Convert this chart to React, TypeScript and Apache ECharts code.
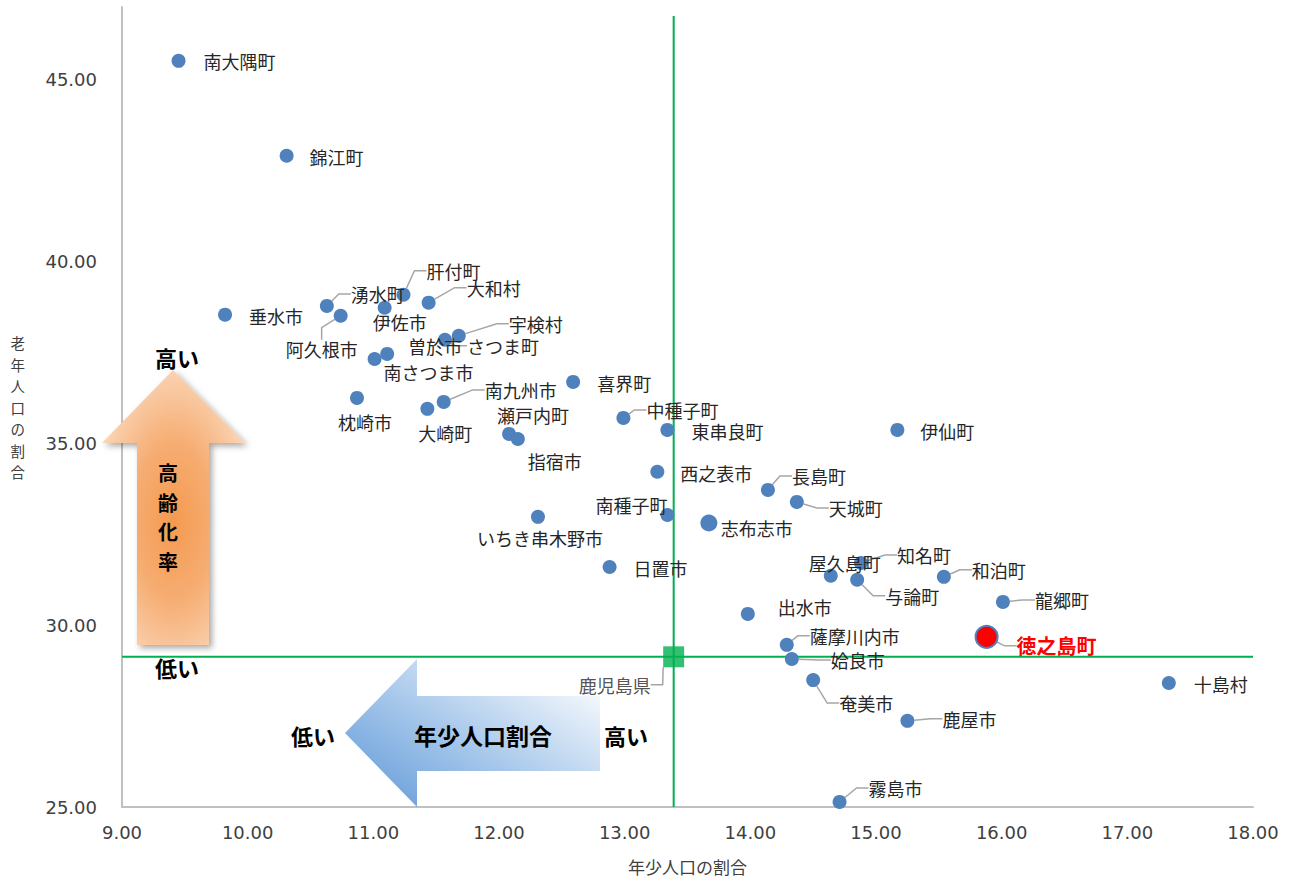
import React, { useEffect, useRef } from "react";
import * as echarts from "echarts";

// 市町村別 年少人口の割合(%) と 老年人口の割合(%)
const municipalities = [
  "南大隅町", "錦江町", "垂水市", "湧水町", "阿久根市", "伊佐市", "肝付町", "大和村",
  "曽於市", "南さつま市", "さつま町", "宇検村", "枕崎市", "大崎町", "南九州市", "瀬戸内町",
  "指宿市", "喜界町", "中種子町", "東串良町", "伊仙町", "西之表市", "長島町", "天城町",
  "南種子町", "志布志市", "いちき串木野市", "日置市", "屋久島町", "知名町", "与論町", "和泊町",
  "龍郷町", "出水市", "薩摩川内市", "姶良市", "徳之島町", "奄美市", "十島村", "鹿屋市", "霧島市",
];
const youthShare = [
  9.45, 10.31, 9.82, 10.63, 10.74, 11.09, 11.24, 11.44,
  11.11, 11.01, 11.57, 11.68, 10.87, 11.43, 11.56, 12.08,
  12.15, 12.59, 12.99, 13.34, 15.17, 13.26, 14.14, 14.37,
  13.34, 13.67, 12.31, 12.88, 14.64, 14.88, 14.85, 15.54,
  16.01, 13.98, 14.29, 14.33, 15.88, 14.5, 17.33, 15.25, 14.71,
];
const elderlyShare = [
  45.52, 42.91, 38.54, 38.78, 38.51, 38.73, 39.09, 38.87,
  37.46, 37.32, 37.85, 37.96, 36.25, 35.95, 36.14, 35.26,
  35.12, 36.69, 35.7, 35.37, 35.37, 34.22, 33.72, 33.39,
  33.03, 32.81, 32.98, 31.6, 31.36, 31.71, 31.25, 31.33,
  30.64, 30.31, 29.46, 29.07, 29.68, 28.49, 28.41, 27.37, 25.14,
];

// 県全体の値（基準線の交点）
const prefName = "鹿児島県";
const prefYouth = 13.39;
const prefElderly = 29.13;
const highlightName = "徳之島町";

// 軸の範囲
const xMin = 9;
const xMax = 18;
const xStep = 1;
const yMin = 25;
const yMax = 47;
const yStep = 5;
const refLineTop = 46.75;

// ラベル配置（点の中心からのずれ px、引き出し線の有無）
const labelPlacement: Record<string, [number, number, boolean]> = {
  南大隅町: [61, 0, false],
  錦江町: [50, 1, false],
  垂水市: [51, 1, false],
  湧水町: [51, -12, true],
  阿久根市: [-19, 33, true],
  伊佐市: [15, 14, false],
  肝付町: [50, -24, true],
  大和村: [65, -15, true],
  曽於市: [48, -8, false],
  南さつま市: [54, 13, false],
  さつま町: [58, 6, true],
  宇検村: [77, -12, true],
  枕崎市: [8, 24, false],
  大崎町: [18, 24, false],
  南九州市: [77, -12, true],
  瀬戸内町: [24, -19, false],
  指宿市: [37, 22, false],
  喜界町: [51, 1, false],
  中種子町: [59, -8, true],
  東串良町: [60, 1, false],
  伊仙町: [50, 1, false],
  西之表市: [59, 1, false],
  長島町: [51, -14, true],
  天城町: [59, 6, true],
  南種子町: [-36, -10, false],
  志布志市: [48, 5, false],
  いちき串木野市: [2, 21, false],
  日置市: [51, 1, false],
  屋久島町: [14, -13, false],
  知名町: [63, -8, true],
  与論町: [55, 16, true],
  和泊町: [55, -7, true],
  龍郷町: [59, -2, true],
  出水市: [57, -7, false],
  薩摩川内市: [68, -9, true],
  姶良市: [66, 1, true],
  徳之島町: [70, 9, true],
  奄美市: [53, 23, true],
  十島村: [52, 1, false],
  鹿屋市: [62, -2, true],
  霧島市: [56, -14, true],
  鹿児島県: [-59, 28, true],
};

const JP_FONT = '"Noto Sans CJK JP", "Noto Sans", sans-serif';
const NUM_FONT = '"DejaVu Sans", Verdana, sans-serif';
const DOT_COLOR = "#4f81bd";
const GREEN = "#00b050";
const LEADER = "#a6a6a6";

function placeLabel(names: string[]) {
  return (params: any) => {
    const name = names[params.dataIndex];
    const p = labelPlacement[name] || [45, 0, false];
    const r = params.rect;
    return {
      x: r.x + r.width / 2 + p[0],
      y: r.y + r.height / 2 + p[1],
      align: "center",
      verticalAlign: "middle",
    };
  };
}

function buildOption(): any {
  const points = municipalities.map((name, i) => {
    const p = labelPlacement[name];
    const item: any = {
      name,
      value: [youthShare[i], elderlyShare[i]],
      labelLine: { show: p ? p[2] : false },
    };
    if (name === highlightName) {
      item.symbolSize = 22;
      item.itemStyle = { color: "#ff0000", borderColor: DOT_COLOR, borderWidth: 2 };
      item.label = { color: "#ff0000", fontWeight: "bold", fontSize: 20 };
    }
    if (name === "志布志市") item.symbolSize = 17;
    return item;
  });

  const upArrow = [
    [173, 370], [245, 443], [209, 443], [209, 645], [137, 645], [137, 443], [102, 443],
  ];
  const leftArrow = [
    [345, 733], [417, 659], [417, 696], [600, 696], [600, 771], [417, 771], [417, 807],
  ];

  const boldText = (text: string, x: number, y: number, size: number, extra: any = {}) => ({
    type: "text",
    x,
    y,
    z: 20,
    style: {
      text,
      fill: "#000",
      fontSize: size,
      fontWeight: "bold",
      fontFamily: JP_FONT,
      textAlign: "center",
      textVerticalAlign: "middle",
      ...extra,
    },
  });

  return {
    animation: false,
    backgroundColor: "#ffffff",
    grid: { left: 122, right: 39, top: 7, bottom: 72, outerBoundsMode: "none" },
    xAxis: {
      type: "value",
      min: xMin,
      max: xMax,
      interval: xStep,
      name: "年少人口の割合",
      nameLocation: "middle",
      nameGap: 51,
      nameTextStyle: { fontFamily: JP_FONT, fontSize: 17, color: "#404040" },
      axisLine: { show: true, lineStyle: { color: "#c0c0c0", width: 2 } },
      axisTick: { show: false },
      splitLine: { show: false },
      axisLabel: {
        margin: 16,
        fontFamily: NUM_FONT,
        fontSize: 18,
        color: "#404040",
        formatter: (v: number) => v.toFixed(2),
      },
    },
    yAxis: {
      type: "value",
      min: yMin,
      max: yMax,
      interval: yStep,
      name: "老年人口の割合".split("").join("\n"),
      nameLocation: "middle",
      nameRotate: 0,
      nameGap: 97,
      nameTextStyle: { fontFamily: JP_FONT, fontSize: 14.5, lineHeight: 21.5, color: "#404040" },
      axisLine: { show: true, lineStyle: { color: "#c0c0c0", width: 2 } },
      axisTick: { show: false },
      splitLine: { show: false },
      axisLabel: {
        margin: 25,
        fontFamily: NUM_FONT,
        fontSize: 18,
        color: "#404040",
        showMaxLabel: false,
        formatter: (v: number) => (Math.abs(v % yStep) < 1e-9 ? v.toFixed(2) : ""),
      },
    },
    graphic: [
      {
        type: "polygon",
        z: 5,
        shape: { points: upArrow },
        style: {
          fill: new echarts.graphic.RadialGradient(0.5, 0.55, 0.82, [
            { offset: 0, color: "#f49a50" },
            { offset: 0.35, color: "#f6ad72" },
            { offset: 0.7, color: "#fad6b8" },
            { offset: 1, color: "#fdf3ea" },
          ]),
          shadowColor: "rgba(0,0,0,0.35)",
          shadowBlur: 6,
          shadowOffsetX: 3,
          shadowOffsetY: 3,
        },
      },
      boldText("高い", 177, 357, 22),
      boldText("高\n齢\n化\n率", 168, 517, 20, { lineHeight: 29.5 }),
      boldText("低い", 177, 667, 22),
      {
        type: "polygon",
        z: 5,
        shape: { points: leftArrow },
        style: {
          fill: new echarts.graphic.LinearGradient(0, 1, 1, 0.1, [
            { offset: 0, color: "#5b96d6" },
            { offset: 0.45, color: "#a3c5ea" },
            { offset: 1, color: "#ffffff" },
          ]),
        },
      },
      boldText("低い", 313, 735, 22),
      boldText("年少人口割合", 483, 735, 22, { fontSize: 23 }),
      boldText("高い", 626, 735, 22),
    ],
    series: [
      {
        name: "基準線（年少）",
        type: "line",
        data: [[prefYouth, yMin], [prefYouth, refLineTop]],
        symbol: "none",
        silent: true,
        z: 1,
        lineStyle: { color: GREEN, width: 2 },
      },
      {
        name: "基準線（老年）",
        type: "line",
        data: [[xMin, prefElderly], [xMax, prefElderly]],
        symbol: "none",
        silent: true,
        z: 1,
        lineStyle: { color: GREEN, width: 2 },
      },
      {
        name: "市町村",
        type: "scatter",
        z: 3,
        symbolSize: 14,
        itemStyle: { color: DOT_COLOR, opacity: 1 },
        data: points,
        label: {
          show: true,
          formatter: "{b}",
          position: "right",
          color: "#262626",
          fontSize: 18,
          fontFamily: JP_FONT,
          textBorderWidth: 0,
        },
        labelLine: {
          show: false,
          length2: 12,
          lineStyle: { color: LEADER, width: 1.5 },
        },
        labelLayout: placeLabel(municipalities),
      },
      {
        name: prefName,
        type: "scatter",
        z: 4,
        symbol: "rect",
        symbolSize: 21,
        itemStyle: { color: GREEN },
        data: [{ name: prefName, value: [prefYouth, prefElderly] }],
        label: {
          show: true,
          formatter: "{b}",
          position: "right",
          color: "#262626",
          fontSize: 18,
          fontFamily: JP_FONT,
          textBorderWidth: 0,
        },
        labelLine: {
          show: true,
          length2: 12,
          lineStyle: { color: LEADER, width: 1.5 },
        },
        labelLayout: placeLabel([prefName]),
      },
    ],
  };
}

export default function App() {
  const ref = useRef<HTMLDivElement>(null);

  useEffect(() => {
    document.body.style.margin = "0";
    if (!ref.current) return;
    const chart = echarts.init(ref.current, null, { renderer: "svg" });
    chart.setOption(buildOption());
    return () => chart.dispose();
  }, []);

  return <div ref={ref} style={{ width: 1292, height: 879 }} />;
}
